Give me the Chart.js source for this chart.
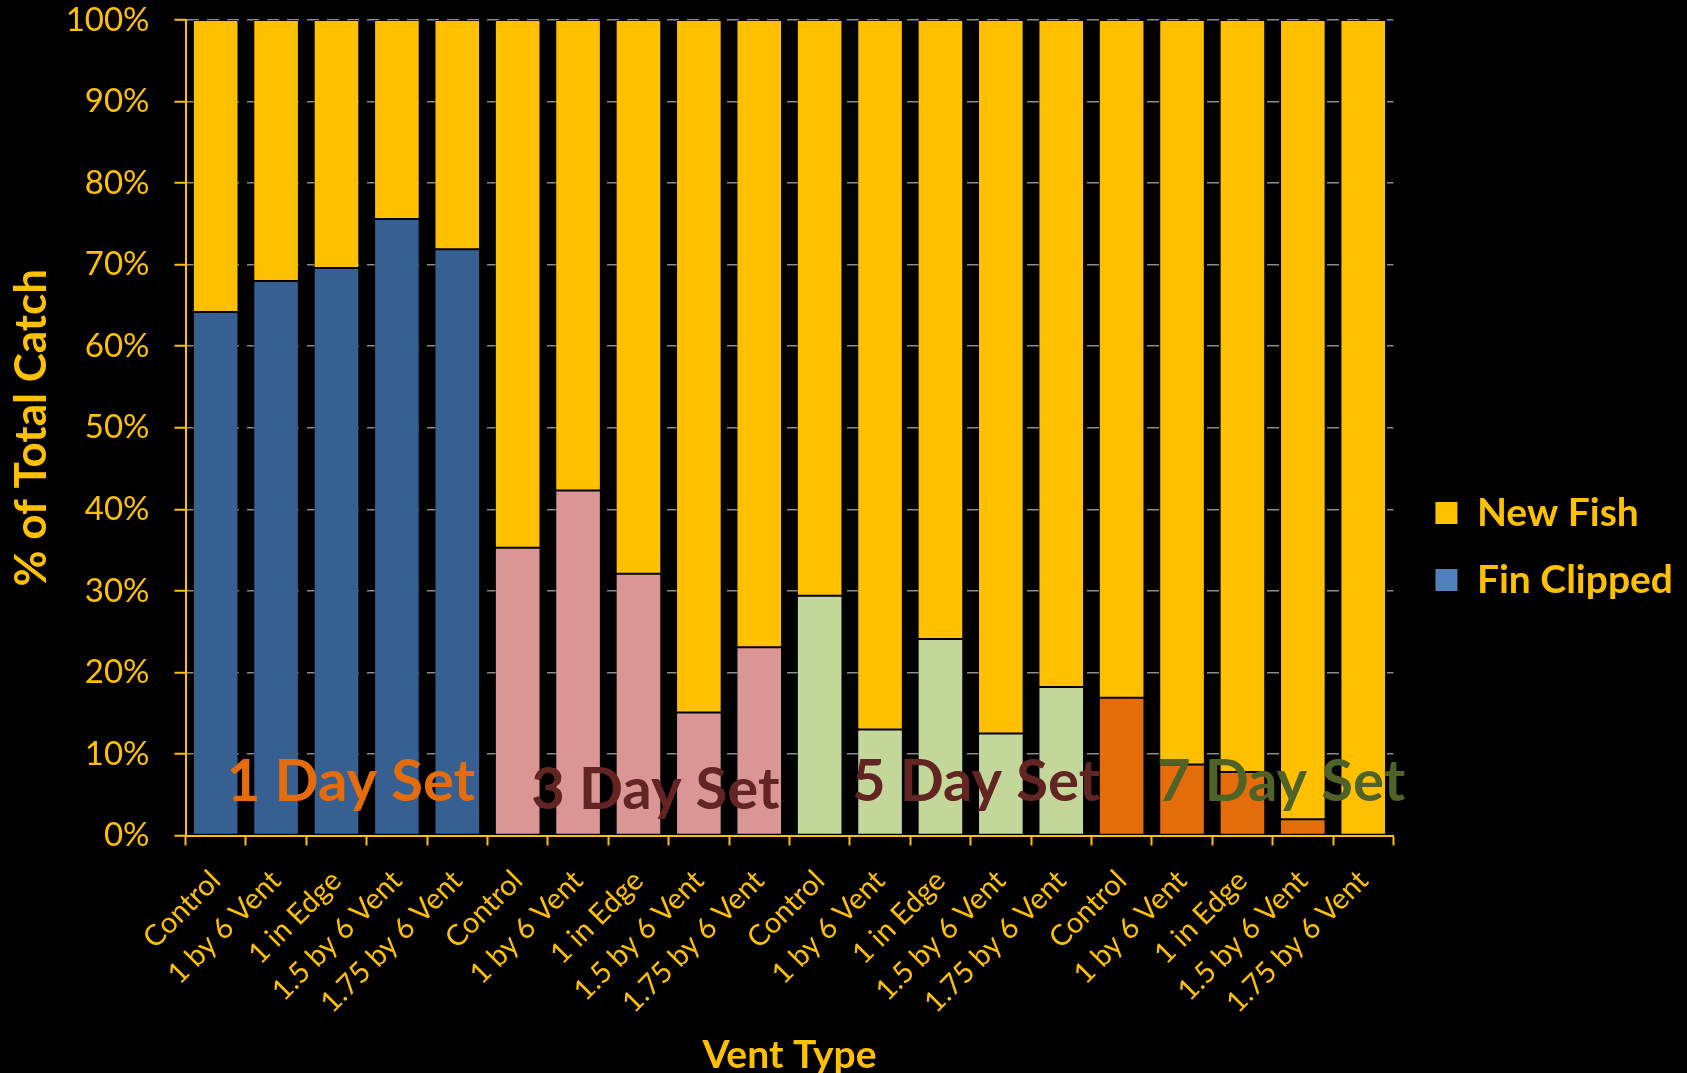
<!DOCTYPE html>
<html>
<head>
<meta charset="utf-8">
<script src="https://cdn.jsdelivr.net/npm/chart.js@4/dist/chart.umd.min.js"></script>
<style>
  html, body { margin: 0; padding: 0; background: #000; }
  #wrap { width: 1687px; height: 1073px; position: relative; background: #000; }
</style>
</head>
<body>
<div id="wrap"><canvas id="c"></canvas></div>
<script>
// ---- data ----
const ventTypes = ['Control', '1 by 6 Vent', '1 in Edge', '1.5 by 6 Vent', '1.75 by 6 Vent'];
const setNames = ['1 Day Set', '3 Day Set', '5 Day Set', '7 Day Set'];
const seriesNames = ['Fin Clipped', 'New Fish'];

const finClipped1Day = [64.2, 68.0, 69.6, 75.6, 71.9];
const finClipped3Day = [35.3, 42.3, 32.1, 15.1, 23.1];
const finClipped5Day = [29.4, 13.0, 24.1, 12.5, 18.2];
const finClipped7Day = [16.9, 8.7, 7.8, 2.0, 0.0];

const newFish1Day = [35.8, 32.0, 30.4, 24.4, 28.1];
const newFish3Day = [64.7, 57.7, 67.9, 84.9, 76.9];
const newFish5Day = [70.6, 87.0, 75.9, 87.5, 81.8];
const newFish7Day = [83.1, 91.3, 92.2, 98.0, 100.0];

const yTicks = [0, 10, 20, 30, 40, 50, 60, 70, 80, 90, 100];

// annotation placement (category index units, % units for baseline)
const setLabelX = [2.24, 7.28, 12.59, 17.64];
const setLabelY = [4.2, 3.3, 4.2, 4.2];

// ---- styles ----
const AX = '#FFC000';
const setColors = ['#376092', '#DA9694', '#C4D79B', '#E46C0A'];
const setTextColors = ['#E46C0A', '#632523', '#632523', '#4F6228'];
const newFishColor = '#FFC000';
const finClippedLegendColor = '#4F81BD';

const labels = setNames.flatMap(() => ventTypes);
const finClipped = [].concat(finClipped1Day, finClipped3Day, finClipped5Day, finClipped7Day);
const newFish = [].concat(newFish1Day, newFish3Day, newFish5Day, newFish7Day);

const setLabelPlugin = {
  id: 'setLabels',
  afterDatasetsDraw(chart) {
    const {ctx, scales: {x, y}} = chart;
    ctx.save();
    ctx.font = 'bold 58px Lato';
    ctx.textAlign = 'center';
    ctx.textBaseline = 'alphabetic';
    setNames.forEach((name, i) => {
      ctx.fillStyle = setTextColors[i];
      ctx.fillText(name, x.getPixelForValue(setLabelX[i]), y.getPixelForValue(setLabelY[i]));
    });
    ctx.restore();
  }
};

new Chart(document.getElementById('c'), {
  type: 'bar',
  data: {
    labels: labels,
    datasets: [
      {
        label: seriesNames[0],
        data: finClipped,
        backgroundColor: ctx => setColors[Math.floor(ctx.dataIndex / ventTypes.length)],
        borderColor: 'rgba(0,0,0,0.55)',
        borderWidth: 1,
        borderSkipped: false,
        barPercentage: 0.755,
        categoryPercentage: 1.0
      },
      {
        label: seriesNames[1],
        data: newFish,
        backgroundColor: newFishColor,
        borderColor: 'rgba(0,0,0,0.55)',
        borderWidth: 1,
        borderSkipped: false,
        barPercentage: 0.755,
        categoryPercentage: 1.0
      }
    ]
  },
  options: {
    responsive: true,
    maintainAspectRatio: false,
    animation: false,
    layout: { padding: { left: 8, top: 20, right: 4, bottom: 0 } },
    plugins: {
      tooltip: { enabled: false },
      legend: {
        position: 'right',
        align: 'center',
        labels: {
          color: AX,
          font: { family: 'Lato', size: 39, weight: 'bold' },
          boxWidth: 22,
          boxHeight: 22,
          padding: 28,
          generateLabels: () => [
            { text: seriesNames[1], fillStyle: newFishColor, strokeStyle: 'rgba(0,0,0,0)', lineWidth: 0, datasetIndex: 1, fontColor: AX },
            { text: seriesNames[0], fillStyle: finClippedLegendColor, strokeStyle: 'rgba(0,0,0,0)', lineWidth: 0, datasetIndex: 0, fontColor: AX }
          ]
        }
      }
    },
    scales: {
      x: {
        stacked: true,
        grid: {
          display: true,
          drawOnChartArea: false,
          offset: true,
          tickLength: 10,
          tickColor: AX,
          tickWidth: 2,
          color: AX
        },
        border: { display: true, color: AX, width: 2 },
        ticks: {
          color: AX,
          font: { family: 'Lato', size: 29 },
          minRotation: 45,
          maxRotation: 45,
          autoSkip: false,
          padding: 18
        },
        title: {
          display: true,
          text: 'Vent Type',
          color: AX,
          font: { family: 'Lato', size: 39, weight: 'bold', lineHeight: 0.9 },
          padding: { top: 0, bottom: 0 }
        }
      },
      y: {
        stacked: true,
        min: 0,
        max: 100,
        afterBuildTicks: axis => { axis.ticks = yTicks.map(v => ({ value: v })); },
        afterFit: scale => { scale.width = 177.5; scale.paddingTop = 20; scale.paddingBottom = 20; },
        grid: {
          color: ctx => (ctx.tick && ctx.tick.value === 0) ? 'rgba(0,0,0,0)' : '#8c8c8c',
          lineWidth: 1.5,
          tickLength: 11,
          tickColor: AX,
          tickWidth: 2
        },
        border: { display: true, color: AX, width: 2, dash: [12, 8] },
        ticks: {
          color: AX,
          font: { family: 'Lato', size: 33 },
          padding: 25,
          callback: v => v + '%'
        },
        title: {
          display: true,
          text: '% of Total Catch',
          color: AX,
          font: { family: 'Lato', size: 44, weight: 'bold', lineHeight: 1.0 },
          padding: { top: 2, bottom: 2 }
        }
      },
      gap: {
        type: 'linear',
        position: 'right',
        display: true,
        afterFit: scale => { scale.width = 14; scale.paddingTop = 0; scale.paddingBottom = 0; },
        grid: { display: false, drawTicks: false },
        border: { display: false },
        ticks: { display: false }
      }
    }
  },
  plugins: [setLabelPlugin]
});
</script>
</body>
</html>
